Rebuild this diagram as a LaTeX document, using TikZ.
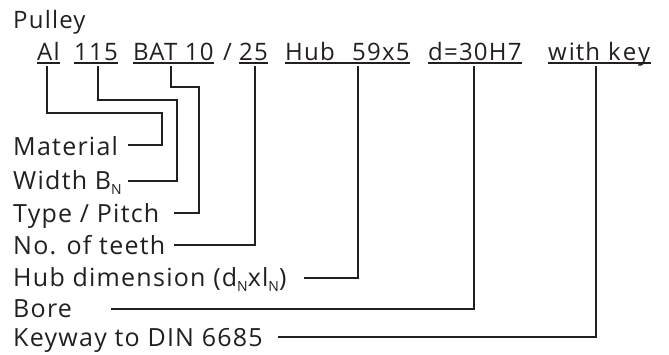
\documentclass[tikz,border=0pt]{standalone}
\usepackage{fontspec}
\setmainfont{Open Sans}[LetterSpace=5]
\definecolor{ink}{HTML}{231F20}
\newcommand{\subN}{\raisebox{-5pt}{\fontsize{14}{14}\selectfont N}}
\tikzset{
  txt/.style={inner sep=0pt, anchor=base west, text=ink, font=\fontsize{24}{28}\selectfont},
  lbl/.style={txt, font=\fontsize{25}{29}\selectfont},
  conn/.style={draw=ink, line width=1.6pt, line join=miter},
  ul/.style={draw=ink, line width=1.1pt}
}
\begin{document}
\begin{tikzpicture}[x=1pt,y=-1pt]
\useasboundingbox (0,0) rectangle (669,354);
% header
\node[txt] (pulley) at (13,28) {Pulley};
% code row
\node[txt] (al)   at (37,60)  {Al};
\node[txt] (wid)  at (74,60)  {115};
\node[txt] (bat)  at (133,60) {BAT 10};
\node[txt] (sl)   at (223,60) {/};
\node[txt] (tth)  at (239,60) {25};
\node[txt] (hub)  at (285,60) {Hub};
\node[txt] (dim)  at (352,60) {59x5};
\node[txt] (bore) at (428,60) {d=30H7};
\node[txt] (key)  at (548,60) {w\hspace{2pt}i\hspace{1pt}t\hspace{1pt}h\hspace{8pt}k\hspace{2pt}e\hspace{2pt}y};
% underlines
\foreach \n in {al,wid,bat,tth,bore,key}{
  \draw[ul] ([yshift=-3pt]\n.base west) -- ([yshift=-3pt]\n.base east);
}
\draw[ul] ([yshift=-3pt]hub.base west) -- ([yshift=-3pt]dim.base east);
% labels
\node[lbl] (lmat)  at (13,155) {Material};
\node[lbl] (lwid)  at (13,189) {Width B\subN};
\node[lbl] (ltype) at (13,222) {Type / Pitch};
\node[lbl] (lteeth) at (13,254) {No. of teeth};
\node[lbl] (lhub)  at (13,286) {Hub dimension (d\subN xl\subN)};
\node[lbl] (lbore) at (13,317) {Bore};
\node[lbl] (lkey)  at (13,346) {Keyway to DIN 6685};
% connector ends
\coordinate (emat)   at (128,145);
\coordinate (ewid)   at (128,181);
\coordinate (etype)  at (174,213);
\coordinate (eteeth) at (174,245);
\coordinate (ehub)   at (304,278);
\coordinate (ebore)  at (111,309);
\coordinate (ekey)   at (278,337);
% connectors
\draw[conn] (al.base -| 47,0)   ++(0,6) |- (162,113) |- (emat);
\draw[conn] (wid.base -| 98,0)  ++(0,6) |- (177,100) |- (ewid);
\draw[conn] (bat.base -| 171,0) ++(0,6) |- (199,87)  |- (etype);
\draw[conn] (tth.base -| 255,0) ++(0,6) |- (eteeth);
\draw[conn] (dim.base -| 358,0) ++(0,6) |- (ehub);
\draw[conn] (bore.base -| 474,0) ++(0,6) |- (ebore);
\draw[conn] (key.base -| 596,0) ++(0,6) |- (ekey);
\end{tikzpicture}
\end{document}
